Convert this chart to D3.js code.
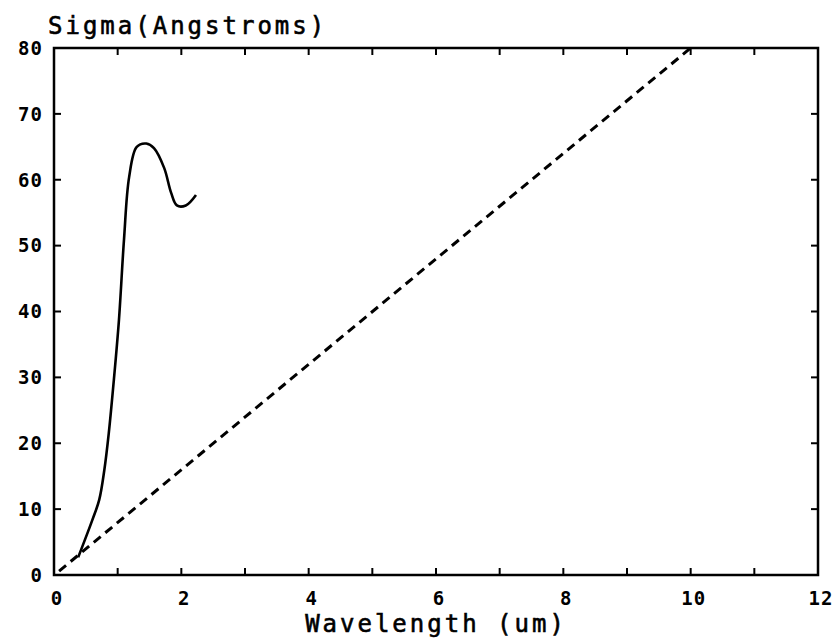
<!DOCTYPE html>
<meta charset="utf-8">
<style>
    body { margin: 0; background: #fff; }
    svg { font-family: "DejaVu Sans Mono", monospace; }
    .tick-label { font-weight: bold; font-size: 19px; fill: #000; letter-spacing: 1px; }
    .axis-title { font-size: 24px; fill: #000; letter-spacing: 3px; stroke: #000; stroke-width: 0.6px; }
</style>
<body>
<script src="https://cdn.jsdelivr.net/npm/d3@7"></script>
<script>
    // measured curve (wavelength um, sigma angstroms)
    var wavelength = [0.38, 0.6, 0.71, 0.79, 0.86, 0.94, 1.02, 1.1, 1.18, 1.3, 1.45, 1.57, 1.73, 1.84, 1.93, 2.07, 2.23];
    var sigma = [2.7, 8.3, 11.4, 15.9, 21.5, 29.6, 38.7, 51, 60.4, 65, 65.5, 64.8, 61.8, 58, 56.1, 56.1, 57.7];
    // dashed reference line
    var refX = [0.08, 10];
    var refY = [0.6, 80];
    var xTickLabels = [0, 2, 4, 6, 8, 10, 12];
    var yTickLabels = [0, 10, 20, 30, 40, 50, 60, 70, 80];

    var width = 836, height = 642;
    var margin = {top: 48, right: 18, bottom: 67, left: 54};

    var svg = d3.select("body").append("svg")
        .attr("width", width)
        .attr("height", height);

    var x = d3.scaleLinear().domain([0, 12]).range([margin.left, width - margin.right]);
    var y = d3.scaleLinear().domain([0, 80]).range([height - margin.bottom, margin.top]);

    // frame
    svg.append("rect")
        .attr("x", x(0)).attr("y", y(80))
        .attr("width", x(12) - x(0)).attr("height", y(0) - y(80))
        .attr("fill", "none").attr("stroke", "#000").attr("stroke-width", 2.5);

    var tickLen = 7;
    var xMinor = d3.range(1, 12);
    svg.selectAll(".xb").data(xMinor).enter().append("line")
        .attr("x1", d => x(d)).attr("x2", d => x(d))
        .attr("y1", y(0)).attr("y2", y(0) - tickLen)
        .attr("stroke", "#000").attr("stroke-width", 2);
    svg.selectAll(".xt").data(xMinor).enter().append("line")
        .attr("x1", d => x(d)).attr("x2", d => x(d))
        .attr("y1", y(80)).attr("y2", y(80) + tickLen)
        .attr("stroke", "#000").attr("stroke-width", 2);
    var yMinor = d3.range(10, 80, 10);
    svg.selectAll(".yl").data(yMinor).enter().append("line")
        .attr("x1", x(0)).attr("x2", x(0) + tickLen)
        .attr("y1", d => y(d)).attr("y2", d => y(d))
        .attr("stroke", "#000").attr("stroke-width", 2);
    svg.selectAll(".yr").data(yMinor).enter().append("line")
        .attr("x1", x(12)).attr("x2", x(12) - tickLen)
        .attr("y1", d => y(d)).attr("y2", d => y(d))
        .attr("stroke", "#000").attr("stroke-width", 2);

    // tick labels
    svg.selectAll(".xlab").data(xTickLabels).enter().append("text")
        .attr("class", "tick-label")
        .attr("x", d => x(d) + 3).attr("y", y(0) + 30)
        .attr("text-anchor", "middle")
        .text(d => d);
    svg.selectAll(".ylab").data(yTickLabels).enter().append("text")
        .attr("class", "tick-label")
        .attr("x", x(0) - 11).attr("y", d => y(d))
        .attr("dy", "0.36em")
        .attr("text-anchor", "end")
        .text(d => d);

    // titles
    svg.append("text").attr("class", "axis-title")
        .attr("x", 48).attr("y", 34)
        .text("Sigma(Angstroms)");
    svg.append("text").attr("class", "axis-title")
        .attr("x", 436).attr("y", 632)
        .attr("text-anchor", "middle")
        .text("Wavelength (um)");

    // curves
    var line = d3.line().curve(d3.curveCatmullRom.alpha(0.5));
    svg.append("path")
        .attr("d", line(wavelength.map((w, i) => [x(w), y(sigma[i])])))
        .attr("fill", "none").attr("stroke", "#000").attr("stroke-width", 2.6);

    svg.append("path")
        .attr("d", d3.line()(refX.map((w, i) => [x(w), y(refY[i])])))
        .attr("fill", "none").attr("stroke", "#000").attr("stroke-width", 3)
        .attr("stroke-dasharray", "9,6");
</script>
</body>
